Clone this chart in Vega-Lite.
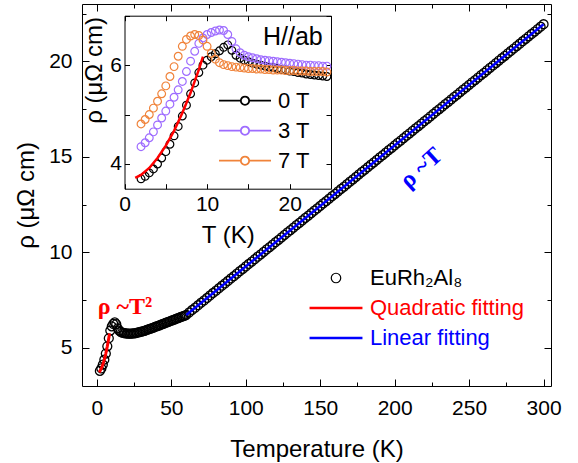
{
  "$schema": "https://vega.github.io/schema/vega-lite/v6.json",
  "width": 469,
  "height": 382,
  "autosize": {"type": "none"},
  "padding": {"left": 82, "top": 4, "right": 27, "bottom": 77},
  "background": "white",
  "config": {
    "view": {"stroke": null},
    "axis": {"grid": false, "domainColor": "black", "tickColor": "black", "labelColor": "black", "titleColor": "black", "labelFont": "Liberation Sans", "titleFont": "Liberation Sans", "labelFontSize": 21, "titleFontSize": 24, "titleFontWeight": "normal", "domainWidth": 1, "tickWidth": 1, "labelFlush": false},
    "legend": {"labelFont": "Liberation Sans", "labelFontSize": 22, "labelColor": "black"}
  },
  "datasets": {
    "main": [
      {"T":2,"r":3.79},{"T":3,"r":3.92},{"T":4,"r":4.12},{"T":5,"r":4.38},{"T":6,"r":4.70},{"T":7,"r":5.08},{"T":8,"r":5.50},{"T":9,"r":5.90},{"T":10,"r":6.12},{"T":11,"r":6.25},{"T":12,"r":6.33},{"T":13,"r":6.24},{"T":14,"r":6.02},{"T":15,"r":5.90},{"T":16,"r":5.84},{"T":17,"r":5.80},{"T":18,"r":5.78},{"T":19,"r":5.76},{"T":20,"r":5.75},{"T":21,"r":5.74},{"T":22,"r":5.74},{"T":23,"r":5.74},{"T":24,"r":5.75},{"T":25,"r":5.76},{"T":26,"r":5.77},{"T":27,"r":5.79},{"T":28,"r":5.81},{"T":29,"r":5.83},{"T":30,"r":5.85},{"T":31,"r":5.87},{"T":32,"r":5.89},{"T":33,"r":5.92},{"T":34,"r":5.95},{"T":35,"r":5.98},{"T":36,"r":6.00},{"T":37,"r":6.03},{"T":38,"r":6.06},{"T":39,"r":6.09},{"T":40,"r":6.12},{"T":41,"r":6.15},{"T":42,"r":6.18},{"T":43,"r":6.21},{"T":44,"r":6.24},{"T":45,"r":6.27},{"T":46,"r":6.30},{"T":47,"r":6.33},{"T":48,"r":6.36},{"T":49,"r":6.39},{"T":50,"r":6.42},{"T":51,"r":6.45},{"T":52,"r":6.48},{"T":53,"r":6.51},{"T":54,"r":6.54},{"T":55,"r":6.57},{"T":56,"r":6.60},{"T":57,"r":6.63},{"T":58,"r":6.66},{"T":59,"r":6.69},
      {"T":60,"r":6.72},{"T":62,"r":6.85},{"T":64,"r":6.98},{"T":66,"r":7.10},{"T":68,"r":7.23},{"T":70,"r":7.36},{"T":72,"r":7.48},{"T":74,"r":7.61},{"T":76,"r":7.74},{"T":78,"r":7.87},{"T":80,"r":7.99},{"T":82,"r":8.12},{"T":84,"r":8.25},{"T":86,"r":8.37},{"T":88,"r":8.50},{"T":90,"r":8.63},{"T":92,"r":8.75},{"T":94,"r":8.88},{"T":96,"r":9.01},{"T":98,"r":9.13},{"T":100,"r":9.26},
      {"T":102,"r":9.39},{"T":104,"r":9.51},{"T":106,"r":9.64},{"T":108,"r":9.77},{"T":110,"r":9.89},{"T":112,"r":10.02},{"T":114,"r":10.15},{"T":116,"r":10.27},{"T":118,"r":10.40},{"T":120,"r":10.53},{"T":122,"r":10.65},{"T":124,"r":10.78},{"T":126,"r":10.91},{"T":128,"r":11.04},{"T":130,"r":11.16},{"T":132,"r":11.29},{"T":134,"r":11.42},{"T":136,"r":11.54},{"T":138,"r":11.67},{"T":140,"r":11.80},
      {"T":142,"r":11.92},{"T":144,"r":12.05},{"T":146,"r":12.18},{"T":148,"r":12.30},{"T":150,"r":12.43},{"T":152,"r":12.56},{"T":154,"r":12.68},{"T":156,"r":12.81},{"T":158,"r":12.94},{"T":160,"r":13.06},{"T":162,"r":13.19},{"T":164,"r":13.32},{"T":166,"r":13.44},{"T":168,"r":13.57},{"T":170,"r":13.70},{"T":172,"r":13.82},{"T":174,"r":13.95},{"T":176,"r":14.08},{"T":178,"r":14.21},{"T":180,"r":14.33},
      {"T":182,"r":14.46},{"T":184,"r":14.59},{"T":186,"r":14.71},{"T":188,"r":14.84},{"T":190,"r":14.97},{"T":192,"r":15.09},{"T":194,"r":15.22},{"T":196,"r":15.35},{"T":198,"r":15.47},{"T":200,"r":15.60},{"T":202,"r":15.73},{"T":204,"r":15.85},{"T":206,"r":15.98},{"T":208,"r":16.11},{"T":210,"r":16.23},{"T":212,"r":16.36},{"T":214,"r":16.49},{"T":216,"r":16.61},{"T":218,"r":16.74},{"T":220,"r":16.87},
      {"T":222,"r":16.99},{"T":224,"r":17.12},{"T":226,"r":17.25},{"T":228,"r":17.38},{"T":230,"r":17.50},{"T":232,"r":17.63},{"T":234,"r":17.76},{"T":236,"r":17.88},{"T":238,"r":18.01},{"T":240,"r":18.14},{"T":242,"r":18.26},{"T":244,"r":18.39},{"T":246,"r":18.52},{"T":248,"r":18.64},{"T":250,"r":18.77},{"T":252,"r":18.90},{"T":254,"r":19.02},{"T":256,"r":19.15},{"T":258,"r":19.28},{"T":260,"r":19.40},
      {"T":262,"r":19.53},{"T":264,"r":19.66},{"T":266,"r":19.78},{"T":268,"r":19.91},{"T":270,"r":20.04},{"T":272,"r":20.16},{"T":274,"r":20.29},{"T":276,"r":20.42},{"T":278,"r":20.54},{"T":280,"r":20.67},{"T":282,"r":20.80},{"T":284,"r":20.92},{"T":286,"r":21.05},{"T":288,"r":21.18},{"T":290,"r":21.31},{"T":292,"r":21.43},{"T":294,"r":21.56},{"T":296,"r":21.69},{"T":298,"r":21.81},{"T":300,"r":21.94}
    ],
    "fitq": [{"T":1.5,"r":3.72},{"T":2,"r":3.77},{"T":3,"r":3.92},{"T":4,"r":4.12},{"T":5,"r":4.38},{"T":6,"r":4.70},{"T":7,"r":5.08},{"T":8,"r":5.51},{"T":8.5,"r":5.75}],
    "fitl": [{"T":60,"r":6.72},{"T":300,"r":21.94}],
    "annq": [{"T":18.9,"r":7.14,"t":"ρ ~T²"}],
    "annl": [{"T":218,"r":14.4,"t":"ρ ~T"}],
    "inset": [
      {"T":2,"r":3.70,"f":"0 T"},{"T":2.5,"r":3.75,"f":"0 T"},{"T":3,"r":3.82,"f":"0 T"},{"T":3.5,"r":3.90,"f":"0 T"},{"T":4,"r":4.00,"f":"0 T"},{"T":4.5,"r":4.12,"f":"0 T"},{"T":5,"r":4.25,"f":"0 T"},{"T":5.5,"r":4.40,"f":"0 T"},{"T":6,"r":4.57,"f":"0 T"},{"T":6.5,"r":4.76,"f":"0 T"},{"T":7,"r":4.97,"f":"0 T"},{"T":7.5,"r":5.19,"f":"0 T"},{"T":8,"r":5.42,"f":"0 T"},{"T":8.5,"r":5.64,"f":"0 T"},{"T":9,"r":5.85,"f":"0 T"},{"T":9.5,"r":6.00,"f":"0 T"},{"T":10,"r":6.10,"f":"0 T"},{"T":10.5,"r":6.17,"f":"0 T"},{"T":11,"r":6.23,"f":"0 T"},{"T":11.5,"r":6.29,"f":"0 T"},{"T":12,"r":6.36,"f":"0 T"},{"T":12.5,"r":6.41,"f":"0 T"},{"T":13,"r":6.30,"f":"0 T"},{"T":13.5,"r":6.20,"f":"0 T"},{"T":14,"r":6.14,"f":"0 T"},{"T":14.5,"r":6.10,"f":"0 T"},{"T":15,"r":6.07,"f":"0 T"},{"T":15.5,"r":6.04,"f":"0 T"},{"T":16,"r":6.02,"f":"0 T"},{"T":16.5,"r":6.00,"f":"0 T"},{"T":17,"r":5.98,"f":"0 T"},{"T":17.5,"r":5.96,"f":"0 T"},{"T":18,"r":5.95,"f":"0 T"},{"T":18.5,"r":5.93,"f":"0 T"},{"T":19,"r":5.91,"f":"0 T"},{"T":19.5,"r":5.90,"f":"0 T"},{"T":20,"r":5.88,"f":"0 T"},{"T":20.5,"r":5.87,"f":"0 T"},{"T":21,"r":5.85,"f":"0 T"},{"T":21.5,"r":5.84,"f":"0 T"},{"T":22,"r":5.82,"f":"0 T"},{"T":22.5,"r":5.81,"f":"0 T"},{"T":23,"r":5.80,"f":"0 T"},{"T":23.5,"r":5.79,"f":"0 T"},{"T":24,"r":5.78,"f":"0 T"},{"T":24.5,"r":5.77,"f":"0 T"},
      {"T":2,"r":4.35,"f":"3 T"},{"T":2.5,"r":4.43,"f":"3 T"},{"T":3,"r":4.53,"f":"3 T"},{"T":3.5,"r":4.65,"f":"3 T"},{"T":4,"r":4.79,"f":"3 T"},{"T":4.5,"r":4.93,"f":"3 T"},{"T":5,"r":5.07,"f":"3 T"},{"T":5.5,"r":5.21,"f":"3 T"},{"T":6,"r":5.35,"f":"3 T"},{"T":6.5,"r":5.50,"f":"3 T"},{"T":7,"r":5.67,"f":"3 T"},{"T":7.5,"r":5.87,"f":"3 T"},{"T":8,"r":6.08,"f":"3 T"},{"T":8.5,"r":6.28,"f":"3 T"},{"T":9,"r":6.44,"f":"3 T"},{"T":9.5,"r":6.55,"f":"3 T"},{"T":10,"r":6.62,"f":"3 T"},{"T":10.5,"r":6.66,"f":"3 T"},{"T":11,"r":6.69,"f":"3 T"},{"T":11.5,"r":6.71,"f":"3 T"},{"T":12,"r":6.70,"f":"3 T"},{"T":12.5,"r":6.62,"f":"3 T"},{"T":13,"r":6.48,"f":"3 T"},{"T":13.5,"r":6.33,"f":"3 T"},{"T":14,"r":6.25,"f":"3 T"},{"T":14.5,"r":6.20,"f":"3 T"},{"T":15,"r":6.17,"f":"3 T"},{"T":15.5,"r":6.15,"f":"3 T"},{"T":16,"r":6.13,"f":"3 T"},{"T":16.5,"r":6.11,"f":"3 T"},{"T":17,"r":6.10,"f":"3 T"},{"T":17.5,"r":6.09,"f":"3 T"},{"T":18,"r":6.08,"f":"3 T"},{"T":18.5,"r":6.07,"f":"3 T"},{"T":19,"r":6.06,"f":"3 T"},{"T":19.5,"r":6.05,"f":"3 T"},{"T":20,"r":6.04,"f":"3 T"},{"T":20.5,"r":6.03,"f":"3 T"},{"T":21,"r":6.02,"f":"3 T"},{"T":21.5,"r":6.01,"f":"3 T"},{"T":22,"r":6.00,"f":"3 T"},{"T":22.5,"r":6.00,"f":"3 T"},{"T":23,"r":5.99,"f":"3 T"},{"T":23.5,"r":5.99,"f":"3 T"},{"T":24,"r":5.98,"f":"3 T"},{"T":24.5,"r":5.98,"f":"3 T"},
      {"T":2,"r":4.81,"f":"7 T"},{"T":2.5,"r":4.90,"f":"7 T"},{"T":3,"r":5.00,"f":"7 T"},{"T":3.5,"r":5.13,"f":"7 T"},{"T":4,"r":5.27,"f":"7 T"},{"T":4.5,"r":5.42,"f":"7 T"},{"T":5,"r":5.58,"f":"7 T"},{"T":5.5,"r":5.77,"f":"7 T"},{"T":6,"r":5.97,"f":"7 T"},{"T":6.5,"r":6.18,"f":"7 T"},{"T":7,"r":6.38,"f":"7 T"},{"T":7.5,"r":6.52,"f":"7 T"},{"T":8,"r":6.59,"f":"7 T"},{"T":8.5,"r":6.62,"f":"7 T"},{"T":9,"r":6.60,"f":"7 T"},{"T":9.5,"r":6.51,"f":"7 T"},{"T":10,"r":6.38,"f":"7 T"},{"T":10.5,"r":6.24,"f":"7 T"},{"T":11,"r":6.12,"f":"7 T"},{"T":11.5,"r":6.05,"f":"7 T"},{"T":12,"r":6.01,"f":"7 T"},{"T":12.5,"r":5.99,"f":"7 T"},{"T":13,"r":5.97,"f":"7 T"},{"T":13.5,"r":5.96,"f":"7 T"},{"T":14,"r":5.95,"f":"7 T"},{"T":14.5,"r":5.94,"f":"7 T"},{"T":15,"r":5.93,"f":"7 T"},{"T":15.5,"r":5.93,"f":"7 T"},{"T":16,"r":5.92,"f":"7 T"},{"T":16.5,"r":5.92,"f":"7 T"},{"T":17,"r":5.91,"f":"7 T"},{"T":17.5,"r":5.91,"f":"7 T"},{"T":18,"r":5.90,"f":"7 T"},{"T":18.5,"r":5.90,"f":"7 T"},{"T":19,"r":5.90,"f":"7 T"},{"T":19.5,"r":5.89,"f":"7 T"},{"T":20,"r":5.89,"f":"7 T"},{"T":20.5,"r":5.89,"f":"7 T"},{"T":21,"r":5.88,"f":"7 T"},{"T":21.5,"r":5.88,"f":"7 T"},{"T":22,"r":5.88,"f":"7 T"},{"T":22.5,"r":5.87,"f":"7 T"},{"T":23,"r":5.87,"f":"7 T"},{"T":23.5,"r":5.87,"f":"7 T"},{"T":24,"r":5.87,"f":"7 T"},{"T":24.5,"r":5.86,"f":"7 T"}
    ],
    "insetfit": [{"T":1.3,"r":3.72},{"T":2,"r":3.78},{"T":3,"r":3.92},{"T":4,"r":4.12},{"T":5,"r":4.37},{"T":6,"r":4.67},{"T":7,"r":5.03},{"T":8,"r":5.44},{"T":9,"r":5.91},{"T":9.5,"r":6.17}],
    "hab": [{"T":24.0,"r":6.57,"t":"H//ab"}]
  },
  "layer": [
    {
      "data": {"name": "main"},
      "mark": {"type": "point", "shape": "circle", "filled": false, "size": 80, "strokeWidth": 1.3, "opacity": 1},
      "encoding": {
        "x": {"field": "T", "type": "quantitative", "scale": {"domain": [-10, 305], "nice": false, "zero": false},
              "axis": {"orient": "bottom", "values": [0, 50, 100, 150, 200, 250, 300], "tickSize": -7, "labelPadding": 18, "title": "Temperature (K)", "titlePadding": 19}},
        "y": {"field": "r", "type": "quantitative", "scale": {"domain": [3, 23], "nice": false, "zero": false},
              "axis": {"orient": "left", "values": [5, 10, 15, 20], "tickSize": -7, "labelPadding": 17, "title": "ρ (μΩ cm)", "titlePadding": 10}},
        "color": {"datum": "EuRh₂Al₈", "type": "nominal",
                  "scale": {"domain": ["EuRh₂Al₈", "Quadratic fitting", "Linear fitting"], "range": ["black", "#FF0000", "#0000FF"]},
                  "legend": {"title": null, "orient": "none", "legendX": 243, "legendY": 263, "labelFontSize": 22, "labelOffset": 23, "rowPadding": 8, "labelLimit": 300,
                             "encoding": {
                               "symbols": {
                                 "shape": {"value": {"expr": "datum.value === 'EuRh₂Al₈' ? 'circle' : 'stroke'"}},
                                 "size": {"value": {"expr": "datum.value === 'EuRh₂Al₈' ? 90 : 2800"}},
                                 "strokeWidth": {"value": {"expr": "datum.value === 'EuRh₂Al₈' ? 1.2 : 2.5"}},
                                 "fill": {"value": "transparent"}},
                               "labels": {"fill": {"value": {"expr": "datum.value === 'Quadratic fitting' ? '#FF0000' : datum.value === 'Linear fitting' ? '#0000FF' : 'black'"}}}
                             }}}
      }
    },
    {
      "data": {"name": "fitq"},
      "mark": {"type": "line", "color": "#FF0000", "strokeWidth": 3},
      "encoding": {
        "x": {"field": "T", "type": "quantitative", "scale": {"domain": [-10, 305], "nice": false, "zero": false},
              "axis": {"orient": "bottom", "values": [25, 75, 125, 175, 225, 275], "tickSize": -4, "labels": false, "domain": false, "title": null}},
        "y": {"field": "r", "type": "quantitative", "scale": {"domain": [3, 23], "nice": false, "zero": false},
              "axis": {"orient": "left", "values": [7.5, 12.5, 17.5, 22.5], "tickSize": -4, "labels": false, "domain": false, "title": null}}
      }
    },
    {
      "data": {"name": "fitl"},
      "mark": {"type": "line", "color": "#0000FF", "strokeWidth": 2.5},
      "encoding": {
        "x": {"field": "T", "type": "quantitative", "scale": {"domain": [-10, 305], "nice": false, "zero": false},
              "axis": {"orient": "top", "values": [0, 50, 100, 150, 200, 250, 300], "tickSize": -7, "labels": false, "title": null}},
        "y": {"field": "r", "type": "quantitative", "scale": {"domain": [3, 23], "nice": false, "zero": false},
              "axis": {"orient": "right", "values": [5, 10, 15, 20], "tickSize": -7, "labels": false, "title": null}}
      }
    },
    {
      "data": {"name": "annq"},
      "mark": {"type": "text", "font": "Liberation Serif", "fontWeight": "bold", "fontSize": 24, "color": "#FF0000", "align": "center", "baseline": "middle"},
      "encoding": {
        "x": {"field": "T", "type": "quantitative", "scale": {"domain": [-10, 305], "nice": false, "zero": false},
              "axis": {"orient": "top", "values": [25, 75, 125, 175, 225, 275], "tickSize": -4, "labels": false, "domain": false, "title": null}},
        "y": {"field": "r", "type": "quantitative", "scale": {"domain": [3, 23], "nice": false, "zero": false},
              "axis": {"orient": "right", "values": [7.5, 12.5, 17.5, 22.5], "tickSize": -4, "labels": false, "domain": false, "title": null}},
        "text": {"field": "t"}
      }
    },
    {
      "data": {"name": "annl"},
      "mark": {"type": "text", "font": "Liberation Serif", "fontWeight": "bold", "fontSize": 24, "color": "#0000FF", "align": "center", "baseline": "middle", "angle": -42},
      "encoding": {
        "x": {"field": "T", "type": "quantitative", "scale": {"domain": [-10, 305], "nice": false, "zero": false}, "axis": null},
        "y": {"field": "r", "type": "quantitative", "scale": {"domain": [3, 23], "nice": false, "zero": false}, "axis": null},
        "text": {"field": "t"}
      }
    },
    {
      "data": {"name": "inset"},
      "mark": {"type": "point", "shape": "circle", "filled": false, "size": 60, "strokeWidth": 1.2, "opacity": 1},
      "encoding": {
        "x": {"field": "T", "type": "quantitative", "scale": {"domain": [0, 25], "range": [42.5, 249], "nice": false, "zero": false},
              "axis": {"orient": "bottom", "offset": -197.3, "values": [0, 5, 10, 15, 20, 25], "labelExpr": "datum.value % 10 === 0 ? datum.label : ''", "tickSize": -5, "labelPadding": 10, "title": "T (K)", "titlePadding": 9}},
        "y": {"field": "r", "type": "quantitative", "scale": {"domain": [3.5, 7], "range": [184.7, 11.7], "nice": false, "zero": false},
              "axis": {"orient": "left", "offset": -42.5, "values": [4, 5, 6, 7], "labelExpr": "datum.value % 2 === 0 ? datum.label : ''", "tickSize": -5, "labelPadding": 8, "title": "ρ (μΩ cm)", "titlePadding": 3, "titleY": 66}},
        "color": {"field": "f", "type": "nominal",
                  "scale": {"domain": ["0 T", "3 T", "7 T"], "range": ["black", "#9E6CFF", "#F0833A"]},
                  "legend": {"title": null, "orient": "none", "legendX": 136, "legendY": 85.7, "labelFontSize": 22, "labelOffset": 6, "rowPadding": 8, "clipHeight": 22,
                             "encoding": {"symbols": {
                               "shape": {"value": {"expr": "'M-1,0H-0.16M0.16,0H1M0.16,0A0.16,0.16,0,1,1,-0.16,0A0.16,0.16,0,1,1,0.16,0Z'"}},
                               "size": {"value": {"expr": "datum.value ? 2704 : 2704"}},
                               "strokeWidth": {"value": {"expr": "1.8"}},
                               "fill": {"value": "white"}}}}}
      }
    },
    {
      "data": {"name": "insetfit"},
      "mark": {"type": "line", "color": "#FF0000", "strokeWidth": 2.5},
      "encoding": {
        "x": {"field": "T", "type": "quantitative", "scale": {"domain": [0, 25], "range": [42.5, 249], "nice": false, "zero": false},
              "axis": {"orient": "top", "offset": -11.7, "values": [0, 5, 10, 15, 20, 25], "tickSize": -5, "labels": false, "title": null}},
        "y": {"field": "r", "type": "quantitative", "scale": {"domain": [3.5, 7], "range": [184.7, 11.7], "nice": false, "zero": false},
              "axis": {"orient": "right", "offset": -220, "values": [4, 5, 6, 7], "tickSize": -5, "labels": false, "title": null}}
      }
    },
    {
      "data": {"name": "hab"},
      "mark": {"type": "text", "font": "Liberation Sans", "fontSize": 25, "color": "black", "align": "right", "baseline": "middle"},
      "encoding": {
        "x": {"field": "T", "type": "quantitative", "scale": {"domain": [0, 25], "range": [42.5, 249], "nice": false, "zero": false}, "axis": null},
        "y": {"field": "r", "type": "quantitative", "scale": {"domain": [3.5, 7], "range": [184.7, 11.7], "nice": false, "zero": false}, "axis": null},
        "text": {"field": "t"}
      }
    }
  ],
  "resolve": {
    "scale": {"x": "independent", "y": "independent", "color": "independent"},
    "axis": {"x": "independent", "y": "independent"},
    "legend": {"color": "independent"}
  }
}
